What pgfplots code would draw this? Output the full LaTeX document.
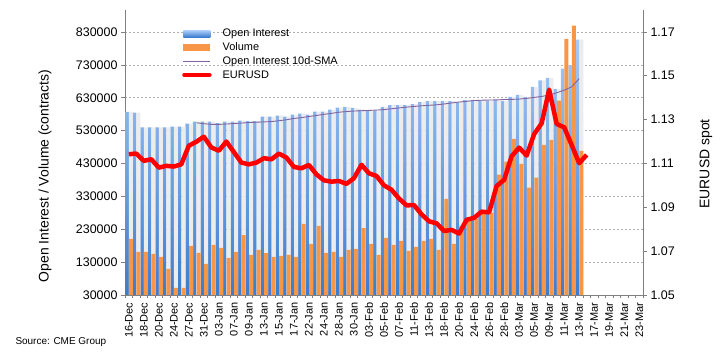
\documentclass[border=0pt]{standalone}
\usepackage{fontspec}
\setmainfont{Liberation Sans}
\usepackage{pgfplots}
\usepackage{pgfplotstable}
\pgfplotsset{compat=1.18}
\definecolor{oiTop}{RGB}{166,202,248}
\definecolor{oiBot}{RGB}{60,124,206}
\definecolor{volC}{RGB}{247,150,70}
\definecolor{smaC}{RGB}{128,100,162}
\definecolor{gridC}{RGB}{175,175,175}
\definecolor{axC}{RGB}{128,128,128}
\definecolor{shadC}{RGB}{236,236,236}

\pgfplotstableread{
idx oi vol sma
0 587000 200800 nan
1 585000 161100 nan
2 540000 161100 nan
3 540000 155000 nan
4 540000 145900 nan
5 540000 109300 nan
6 542000 51300 nan
7 542000 51300 nan
8 551500 179400 nan
9 557600 158100 554000
10 557600 124500 551000
11 557600 182500 549000
12 552500 173300 549000
13 557600 142800 550000
14 557600 161100 551500
15 560600 212500 553000
16 558600 152000 554500
17 558600 167200 555500
18 572800 157100 556500
19 572800 145900 557600
20 575900 148900 560000
21 572800 152000 563000
22 578900 145900 567000
23 582000 246500 569500
24 578900 185500 573000
25 588000 240400 576000
26 588000 158100 579500
27 594100 161100 582500
28 600100 146000 586000
29 602000 167000 588000
30 599000 170000 589500
31 593500 233500 590500
32 590500 185300 591500
33 590500 151800 592500
34 602000 203600 594000
35 607500 182300 596500
36 607500 194500 599000
37 607500 164000 601500
38 610500 176200 603500
39 617000 194500 605500
40 620000 200600 607000
41 620000 167000 608500
42 620000 322400 611000
43 620000 185300 614000
44 617000 240000 617000
45 623000 255000 619000
46 623500 262000 621500
47 622600 280000 622500
48 619600 280000 623000
49 622600 395900 623500
50 619600 436000 624500
51 632800 505000 625000
52 638900 429000 626000
53 632800 356500 628000
54 663300 387300 631000
55 682600 486500 634000
56 690700 502000 638000
57 657200 621000 645000
58 718200 809000 653000
59 728300 849500 663000
60 806600 468500 688000
}\maindata

\pgfplotstableread{
idx eur
0 1.1142
1 1.1145
2 1.1112
3 1.1119
4 1.1081
5 1.1089
6 1.1086
7 1.1096
8 1.1181
9 1.1199
10 1.1222
11 1.1173
12 1.1158
13 1.1200
14 1.1152
15 1.1104
16 1.1096
17 1.1104
18 1.1124
19 1.1119
20 1.1145
21 1.1127
22 1.1084
23 1.1078
24 1.1093
25 1.1050
26 1.1023
27 1.1017
28 1.1020
29 1.1007
30 1.1033
31 1.1094
32 1.1055
33 1.1043
34 1.1000
35 1.0980
36 1.0940
37 1.0909
38 1.0910
39 1.0868
40 1.0836
41 1.0827
42 1.0792
43 1.0797
44 1.0780
45 1.0843
46 1.0852
47 1.0880
48 1.0877
49 1.0997
50 1.1025
51 1.1133
52 1.1172
53 1.1136
54 1.1234
55 1.1283
56 1.1437
57 1.1280
58 1.1265
59 1.1184
60 1.1101
61 1.1139
}\eurdata

\begin{document}
\begin{tikzpicture}
\useasboundingbox (0,0) rectangle (723bp,359bp);
\begin{axis}[
  at={(125bp,64bp)}, anchor=south west,
  scale only axis, width=518bp, height=285bp,
  xmin=-0.5, xmax=68.5, ymin=30000, ymax=896920,
  axis x line*=bottom, axis y line*=left,
  axis line style={axC, line width=0.8bp},
  tick style={axC, line width=0.6bp},
  tick align=outside, major tick length=4bp, minor tick length=3bp,
  xtick={0,2,...,68},
  xticklabels={16-Dec,18-Dec,20-Dec,24-Dec,27-Dec,31-Dec,03-Jan,07-Jan,09-Jan,13-Jan,15-Jan,17-Jan,22-Jan,24-Jan,28-Jan,30-Jan,03-Feb,05-Feb,07-Feb,11-Feb,13-Feb,18-Feb,20-Feb,24-Feb,26-Feb,28-Feb,03-Mar,05-Mar,09-Mar,11-Mar,13-Mar,17-Mar,19-Mar,21-Mar,23-Mar},
  minor xtick={-0.5,0.5,...,68.5},
  major x tick style={draw=none},
  xticklabel style={rotate=90, anchor=east, font=\fontsize{11}{12}\selectfont},
  ytick={30000,130000,...,830000},
  scaled y ticks=false,
  /pgf/number format/assume math mode=true,
  yticklabel style={/pgf/number format/1000 sep={}, /pgf/number format/fixed, font=\fontsize{12.5}{14}\selectfont},
  ymajorgrids,
  grid style={gridC, dash pattern=on 2bp off 2bp, line width=0.6bp},
  ylabel={Open Interest / Volume (contracts)},
  ylabel style={at={(axis description cs:-0.1544,0.4175)}, anchor=center, font=\fontsize{14}{16}\selectfont},
  legend style={at={(axis description cs:0.11,0.94)}, anchor=north west, draw=none, fill=none, font=\fontsize{11}{13}\selectfont, row sep=0.4bp, inner sep=0pt,
    /tikz/every odd column/.append style={column sep=9bp}},
  legend cell align=left,
]
\addplot[ybar, bar width=3.5bp, bar shift=-1.6bp, draw=none, top color=oiTop, bottom color=oiBot,
  legend image code/.code={\fill[top color=oiTop, bottom color=oiBot] (0bp,-3.2bp) rectangle (27bp,3.2bp);}]
  table[x=idx, y=oi]{\maindata};
\addlegendentry{Open Interest}
\addplot[ybar, bar width=4bp, bar shift=2.2bp, draw=none, fill=shadC, forget plot]
  table[x=idx, y=oi]{\maindata};
\addplot[ybar, bar width=4bp, bar shift=2.2bp, draw=none, fill=volC,
  legend image code/.code={\fill[volC] (0bp,-3.2bp) rectangle (27bp,3.2bp);}]
  table[x=idx, y=vol]{\maindata};
\addlegendentry{Volume}
\addplot[smaC, line width=0.9bp, mark=none,
  legend image code/.code={\draw[smaC, line width=0.9bp] (0bp,0bp) -- (27bp,0bp);}]
  table[x=idx, y=sma]{\maindata};
\addlegendentry{Open Interest 10d-SMA}
\addlegendimage{red, line width=4.5bp, legend image code/.code={\draw[red, line width=4.5bp, line cap=round] (1bp,0bp) -- (26bp,0bp);}}
\addlegendentry{EURUSD}
\end{axis}
\begin{axis}[
  at={(125bp,64bp)}, anchor=south west,
  scale only axis, width=518bp, height=285bp,
  xmin=-0.5, xmax=68.5, ymin=1.05, ymax=1.18,
  axis x line=none, axis y line*=right,
  axis line style={axC, line width=0.8bp},
  tick style={axC, line width=0.6bp},
  tick align=outside, major tick length=4bp,
  ytick={1.05,1.07,1.09,1.11,1.13,1.15,1.17},
  /pgf/number format/assume math mode=true,
  yticklabel style={/pgf/number format/fixed, /pgf/number format/fixed zerofill, /pgf/number format/precision=2, font=\fontsize{12.5}{14}\selectfont},
  ylabel={EURUSD spot},
  ylabel style={at={(axis description cs:1.1216,0.46)}, anchor=center, font=\fontsize{14}{16}\selectfont},
]
\addplot[red, line width=4.5bp, line join=round, mark=none] table[x=idx, y=eur]{\eurdata};
\end{axis}
\node[anchor=west, font=\fontsize{10}{12}\selectfont] at (12bp,17bp) {Source: CME Group};
\end{tikzpicture}
\end{document}
